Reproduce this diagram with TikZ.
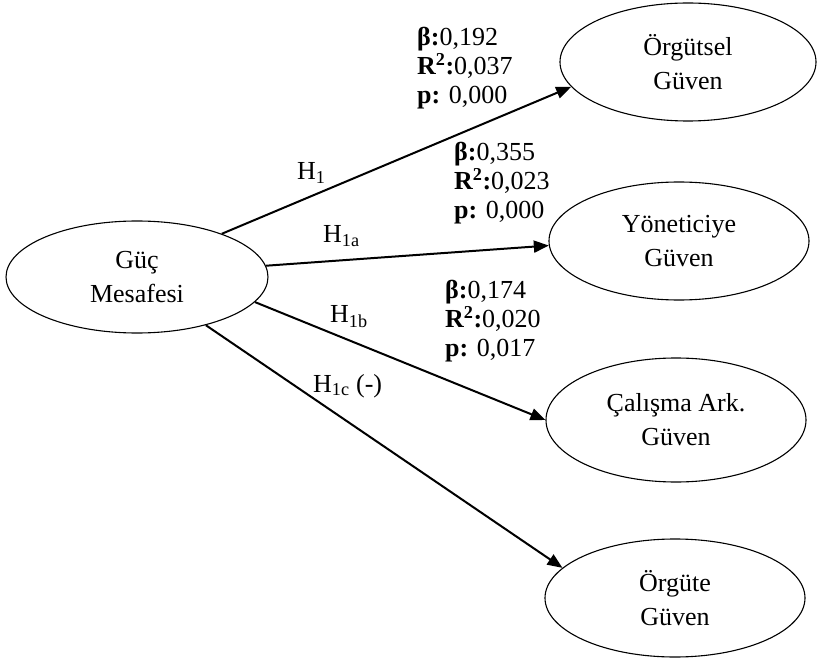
\documentclass[tikz,border=0pt]{standalone}
\usepackage{fontspec}
\setmainfont{Liberation Serif}
\usetikzlibrary{shapes.geometric,arrows.meta}

\begin{document}
\begin{tikzpicture}[>={Triangle[length=15pt,width=12pt]},x=1pt,y=-1pt,
	construct/.style={draw,ellipse,line width=1.1pt,inner sep=0pt,minimum width=260pt,minimum height=118pt,align=center,font=\fontsize{26}{34}\selectfont},
	link/.style={->,line width=2pt},
	stat/.style={anchor=north west,inner sep=0pt,align=left,font=\fontsize{26}{29}\selectfont},
	hyp/.style={anchor=base west,inner sep=0pt,font=\fontsize{26}{29}\selectfont}]
		\useasboundingbox (0,0) rectangle (817,663);
		% ellipses
		\node[construct,minimum width=262pt,minimum height=112pt] (gm) at (137,277) {Güç\\Mesafesi};
		\node[construct,minimum width=256pt] (og) at (688,62) {Örgütsel\\Güven};
		\node[construct] (yg) at (679,241) {Yöneticiye\\Güven};
		\node[construct,minimum height=124pt] (cg) at (676,420) {Çalışma Ark.\\Güven};
		\node[construct] (ogt) at (675,598) {Örgüte\\Güven};
		% arrows
		\draw[link] (gm.27) -- (og.192);
		\draw[link] (gm.5) -- (yg.182);
		\draw[link] (gm.348) -- (cg.180);
		\draw[link] (gm.325) -- (ogt.165);
		% hypotheses
		\node[hyp] (h1) at (297,180) {H\textsubscript{1}};
		\node[hyp] (h1a) at (323,243) {H\textsubscript{1a}};
		\node[hyp] (h1b) at (330,323) {H\textsubscript{1b}};
		\node[hyp] (h1c) at (313,392) {H\textsubscript{1c} (-)};
		% coefficients
		\node[stat] (s1) at (417,27) {\textbf{β:}0,192\\\textbf{R\textsuperscript{2}:}0,037\\\textbf{p:} 0,000};
		\node[stat] (s2) at (454,142) {\textbf{β:}0,355\\\textbf{R\textsuperscript{2}:}0,023\\\textbf{p:} 0,000};
		\node[stat] (s3) at (445,280) {\textbf{β:}0,174\\\textbf{R\textsuperscript{2}:}0,020\\\textbf{p:} 0,017};
\end{tikzpicture}
\end{document}
